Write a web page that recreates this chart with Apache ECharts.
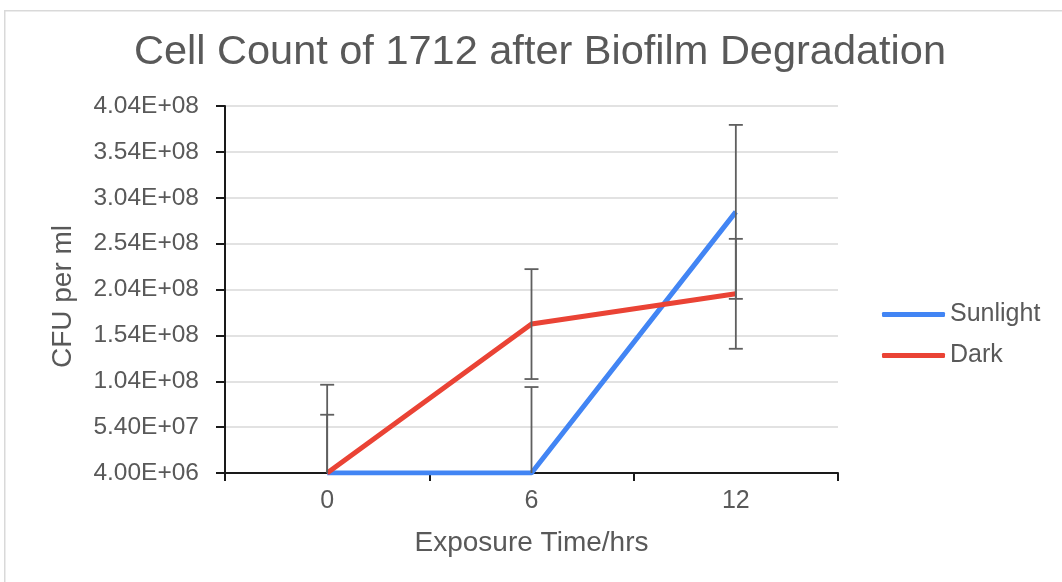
<!DOCTYPE html>
<html>
<head>
<meta charset="utf-8">
<title>Cell Count of 1712 after Biofilm Degradation</title>
<script src="https://cdn.jsdelivr.net/npm/echarts@6/dist/echarts.min.js"></script>
<style>
  html, body { margin: 0; padding: 0; background: #ffffff; }
  #chart { width: 1062px; height: 582px; }
</style>
</head>
<body>
<div id="chart"></div>
<script>
// Exposure times (hours)
const categories = ['0', '6', '12'];

// Mean CFU per ml and error amounts for each condition
const sunlight = [4.0e6, 4.0e6, 2.886e8];
const sunlightErr = [9.62e7, 9.37e7, 9.48e7];
const dark = [4.0e6, 1.663e8, 1.993e8];
const darkErr = [6.35e7, 5.99e7, 5.99e7];

// Value-axis ticks and their labels
const yTickValues = [4e6, 5.4e7, 1.04e8, 1.54e8, 2.04e8, 2.54e8, 3.04e8, 3.54e8, 4.04e8];
const yTickLabels = ['4.00E+06', '5.40E+07', '1.04E+08', '1.54E+08', '2.04E+08',
                     '2.54E+08', '3.04E+08', '3.54E+08', '4.04E+08'];

const FONT = "'Liberation Sans', Arial, Helvetica, sans-serif";
const TEXT_COLOR = '#595959';
const BLUE = '#4285f4';
const RED = '#ea4335';

function yLabel(v) {
  for (let i = 0; i < yTickValues.length; i++) {
    if (Math.abs(yTickValues[i] - v) < 1) return yTickLabels[i];
  }
  return '';
}

// Vertical error bar with caps at both ends
function errorBarItem(params, api) {
  const x = api.value(0);
  const lo = api.value(1);
  const hi = api.value(2);
  const top = api.coord([x, hi]);
  const bot = api.coord([x, lo]);
  const half = 7;
  const style = { stroke: '#5f5f5f', lineWidth: 1.8, fill: null };
  return {
    type: 'group',
    children: [
      { type: 'line', shape: { x1: top[0], y1: top[1], x2: bot[0], y2: bot[1] }, style: style },
      { type: 'line', shape: { x1: top[0] - half, y1: top[1], x2: top[0] + half, y2: top[1] }, style: style },
      { type: 'line', shape: { x1: bot[0] - half, y1: bot[1], x2: bot[0] + half, y2: bot[1] }, style: style }
    ]
  };
}

function errorData(values, errs) {
  return values.map((v, i) => [i, v - errs[i], v + errs[i]]);
}

const chart = echarts.init(document.getElementById('chart'), null, { renderer: 'canvas' });

chart.setOption({
  animation: false,
  backgroundColor: '#ffffff',
  textStyle: { fontFamily: FONT },
  graphic: [{
    type: 'rect',
    left: 4, top: 10, z: -10,
    shape: { width: 1100, height: 620 },
    style: { fill: '#ffffff', stroke: '#d9d9d9', lineWidth: 1.5 }
  }],
  title: {
    text: 'Cell Count of 1712 after Biofilm Degradation',
    left: 535,
    textAlign: 'center',
    top: 27,
    textStyle: { fontFamily: FONT, fontSize: 41.5, fontWeight: 'normal', color: TEXT_COLOR }
  },
  legend: {
    orient: 'vertical',
    left: 877,
    top: 297,
    icon: 'roundRect',
    itemWidth: 63,
    itemHeight: 5,
    itemGap: 16,
    data: ['Sunlight', 'Dark'],
    textStyle: { fontFamily: FONT, fontSize: 25, color: TEXT_COLOR }
  },
  grid: {
    left: 225, right: 224, top: 106, bottom: 109,
    containLabel: false,
    outerBoundsMode: 'none'
  },
  xAxis: {
    type: 'category',
    data: categories,
    boundaryGap: true,
    name: 'Exposure Time/hrs',
    nameLocation: 'middle',
    nameGap: 56,
    nameTextStyle: { fontFamily: FONT, fontSize: 28, color: TEXT_COLOR },
    axisLine: { show: true, lineStyle: { color: '#1a1a1a', width: 2 } },
    axisTick: { show: true, inside: false, length: 8, interval: 0, alignWithLabel: false,
                lineStyle: { color: '#1a1a1a', width: 2 } },
    axisLabel: { margin: 16, fontFamily: FONT, fontSize: 25, color: TEXT_COLOR, interval: 0 },
    splitLine: { show: false }
  },
  yAxis: {
    type: 'value',
    min: yTickValues[0],
    max: yTickValues[yTickValues.length - 1],
    name: 'CFU per ml',
    nameLocation: 'middle',
    nameGap: 148,
    nameRotate: 90,
    nameTextStyle: { fontFamily: FONT, fontSize: 28, color: TEXT_COLOR, padding: [0, 14, 0, 0] },
    axisLine: { show: true, lineStyle: { color: '#1a1a1a', width: 2 } },
    axisTick: { show: true, length: 9, customValues: yTickValues,
                lineStyle: { color: '#1a1a1a', width: 2 } },
    axisLabel: { margin: 26, fontFamily: FONT, fontSize: 24.5, color: TEXT_COLOR,
                 customValues: yTickValues, formatter: yLabel },
    splitLine: { show: true, lineStyle: { color: '#d9d9d9', width: 1.5 } }
  },
  series: [
    {
      name: 'Sunlight',
      type: 'line',
      data: sunlight,
      symbol: 'none',
      color: BLUE,
      lineStyle: { color: BLUE, width: 5 },
      emphasis: { disabled: true },
      z: 3
    },
    {
      name: 'Dark',
      type: 'line',
      data: dark,
      symbol: 'none',
      color: RED,
      lineStyle: { color: RED, width: 5 },
      emphasis: { disabled: true },
      z: 3
    },
    {
      name: 'Sunlight error',
      type: 'custom',
      renderItem: errorBarItem,
      data: errorData(sunlight, sunlightErr),
      encode: { x: 0, y: [1, 2] },
      clip: true,
      silent: true,
      z: 4
    },
    {
      name: 'Dark error',
      type: 'custom',
      renderItem: errorBarItem,
      data: errorData(dark, darkErr),
      encode: { x: 0, y: [1, 2] },
      clip: true,
      silent: true,
      z: 4
    }
  ]
});
</script>
</body>
</html>
